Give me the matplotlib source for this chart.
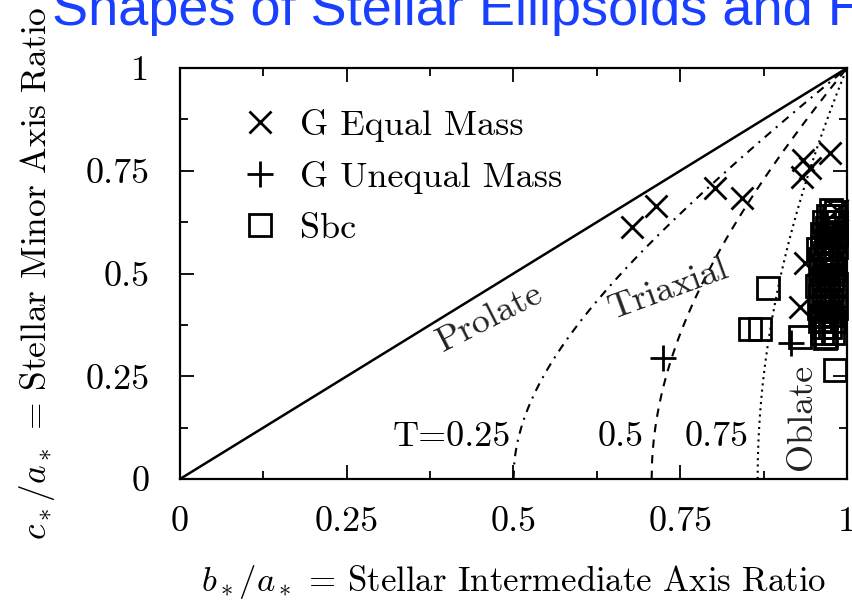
import numpy as np
import matplotlib
matplotlib.use("Agg")
import matplotlib.pyplot as plt

plt.rcParams['font.family'] = 'serif'
plt.rcParams['font.serif'] = ['cmr10', 'DejaVu Serif']
plt.rcParams['mathtext.fontset'] = 'cm'
plt.rcParams['axes.unicode_minus'] = False
plt.rcParams['axes.formatter.use_mathtext'] = True

# ---- data ----
eq_b = [0.678, 0.714, 0.802, 0.843, 0.934, 0.945, 0.933, 0.975, 0.937, 0.930,
        0.985, 0.970, 0.980, 0.965, 0.975]
eq_c = [0.613, 0.664, 0.708, 0.684, 0.776, 0.757, 0.735, 0.793, 0.526, 0.418,
        0.655, 0.600, 0.550, 0.480, 0.440]

uneq_b = [0.724, 0.916, 0.970, 0.960, 0.975, 0.965]
uneq_c = [0.294, 0.331, 0.620, 0.500, 0.400, 0.360]

sbc_b = [0.882, 0.855, 0.870, 0.930, 0.967, 0.982,
         0.972, 0.981, 0.966, 0.978, 0.984, 0.970, 0.980, 0.963, 0.975, 0.983,
         0.968, 0.979, 0.962, 0.973, 0.984, 0.967, 0.977, 0.960, 0.971, 0.982,
         0.965, 0.976, 0.961, 0.970, 0.981, 0.966, 0.978, 0.959, 0.972, 0.984,
         0.964, 0.977, 0.960, 0.970, 0.982, 0.966, 0.976, 0.958, 0.971, 0.983,
         0.963, 0.978, 0.960, 0.969, 0.981, 0.965, 0.975, 0.962, 0.979,
         0.976, 0.984, 0.968, 0.955, 0.957]
sbc_c = [0.465, 0.365, 0.365, 0.345, 0.343, 0.265,
         0.640, 0.640, 0.625, 0.625, 0.625, 0.610, 0.610, 0.595, 0.595, 0.595,
         0.580, 0.580, 0.565, 0.565, 0.565, 0.550, 0.550, 0.535, 0.535, 0.535,
         0.520, 0.520, 0.505, 0.505, 0.505, 0.490, 0.490, 0.475, 0.475, 0.475,
         0.460, 0.460, 0.445, 0.445, 0.445, 0.430, 0.430, 0.415, 0.415, 0.415,
         0.400, 0.400, 0.385, 0.385, 0.385, 0.370, 0.370, 0.355, 0.355,
         0.655, 0.650, 0.345, 0.470, 0.560]

T_values = [0.75, 0.5, 0.25]          # triaxiality curves
T_styles = ['dashdot', 'dashed', 'dotted']
T_labels = ['T=0.25', '0.5', '0.75']

xticks = [0, 0.25, 0.5, 0.75, 1]
xticklabels = ['0', '0.25', '0.5', '0.75', '1']
yticks = [0, 0.25, 0.5, 0.75, 1]
yticklabels = ['0', '0.25', '0.5', '0.75', '1']

# ---- figure ----
fig = plt.figure(figsize=(8.53, 6.0), dpi=100)
ax = fig.add_axes([180/853, 1-479/600, (847-180)/853, (479-68)/600])

fs = 26
# prolate line
ax.plot([0, 1], [0, 1], color='black', lw=1.8, solid_capstyle='butt')

for T, ls in zip(T_values, T_styles):
    b0 = np.sqrt(1 - T)
    b = np.linspace(b0, 1, 400)
    c = np.sqrt(np.clip(1 - (1 - b**2) / T, 0, None))
    if ls == 'dotted':
        ax.plot(b, c, color='black', lw=1.5, linestyle=(0, (1, 2.0)))
    elif ls == 'dashed':
        ax.plot(b, c, color='black', lw=1.5, linestyle=(0, (4, 3.5)))
    else:
        ax.plot(b, c, color='black', lw=1.5, linestyle=(0, (4, 3, 1, 3)))

ms = 15.5
mew = 2.0
ax.plot(eq_b, eq_c, linestyle='none', marker='x', ms=ms, mew=mew, color='black',
        label='G Equal Mass', clip_on=False)
ax.plot(uneq_b, uneq_c, linestyle='none', marker='+', ms=ms+3, mew=mew, color='black',
        label='G Unequal Mass', clip_on=False)
ax.plot(sbc_b, sbc_c, linestyle='none', marker='s', ms=ms, mew=mew, mfc='none',
        mec='black', label='Sbc', clip_on=False)

leg = ax.legend(loc='upper left', bbox_to_anchor=(0.055, 0.962), frameon=False,
                fontsize=fs, handlelength=1.0, handletextpad=0.6,
                labelspacing=0.52, borderpad=0.2)

# annotations
ax.text(0.465, 0.392, 'Prolate', rotation=27, ha='center', va='center', fontsize=fs, color='#222222')
ax.text(0.732, 0.462, 'Triaxial', rotation=20, ha='center', va='center', fontsize=fs, color='#222222')
ax.text(0.933, 0.150, 'Oblate', rotation=90, ha='center', va='center', fontsize=fs, color='#222222')
label_x = [0.408, 0.661, 0.805]
for lx, lt in zip(label_x, T_labels):
    ax.text(lx, 0.102, lt, ha='center', va='center', fontsize=fs)

ax.set_xlim(0, 1)
ax.set_ylim(0, 1)
ax.set_xticks(xticks)
ax.set_xticklabels(xticklabels, fontsize=fs)
ax.set_yticks(yticks)
ax.set_yticklabels(yticklabels, fontsize=fs)
ax.set_xticks(np.arange(0.125, 1, 0.25), minor=True)
ax.set_yticks(np.arange(0.125, 1, 0.25), minor=True)
ax.tick_params(which='both', direction='in', top=True, right=True, width=1.3)
ax.tick_params(which='major', length=10)
ax.tick_params(which='minor', length=6)
ax.tick_params(axis='x', which='major', pad=20)
ax.tick_params(axis='y', which='major', pad=22)
for s in ax.spines.values():
    s.set_linewidth(1.6)

ax.set_xlabel(r'$b_*/a_*$ = Stellar Intermediate Axis Ratio', fontsize=25, labelpad=18)
ax.set_ylabel(r'$c_*/a_*$ = Stellar Minor Axis Ratio', fontsize=25.5, labelpad=20)

fig.text(52/853, 1-25/600, 'Shapes of Stellar Ellipsoids and Halos', color='#1a40ff',
         fontsize=39, family='Liberation Sans', va='baseline', ha='left')

fig.savefig('out.png', dpi=100)
